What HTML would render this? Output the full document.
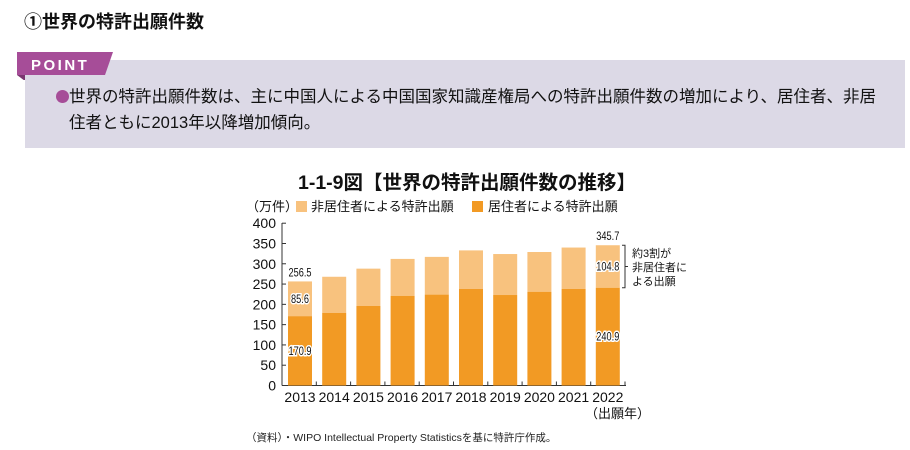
<!DOCTYPE html>
<html><head><meta charset="utf-8"><style>
body{margin:0;width:910px;height:450px;background:#fff;font-family:"Liberation Sans","Noto Sans CJK JP",sans-serif;overflow:hidden;position:relative}
.abs{position:absolute;white-space:nowrap}
</style></head><body>
<div class="abs" style="left:24px;top:8px;font-size:18px;font-weight:bold;color:#111">①世界の特許出願件数</div>
<div class="abs" style="left:25px;top:60px;width:880px;height:88px;background:#dcd9e6"></div>
<svg class="abs" style="left:15px;top:50px" width="100" height="30"><polygon points="2,2 98,2 90,25 2,25" fill="#a64d98"/><polygon points="2,25 10,25 10,31" fill="#7a3570"/><text x="16" y="20" font-family="Liberation Sans" font-weight="bold" font-size="15" fill="#fff" letter-spacing="2.5">POINT</text></svg>
<div class="abs" style="left:56px;top:90px;width:13px;height:13px;border-radius:50%;background:#a64d98"></div>
<div class="abs" style="left:56px;top:84px;font-size:16.5px;line-height:26px;color:#111"><span style="display:inline-block;width:13px"></span>世界の特許出願件数は、主に中国人による中国国家知識産権局への特許出願件数の増加により、居住者、非居<br><span style="padding-left:13px">住者ともに2013年以降増加傾向。</span></div>
<div class="abs" style="left:298px;top:166px;font-size:19.5px;font-weight:bold;color:#111">1-1-9図【世界の特許出願件数の推移】</div>
<svg class="abs" id="chart" style="left:0;top:0" width="910" height="450"></svg>
<div class="abs" style="left:246px;top:430px;font-size:10.5px;color:#222">（資料）・WIPO Intellectual Property Statisticsを基に特許庁作成。</div>
<script>
const years=["2013","2014","2015","2016","2017","2018","2019","2020","2021","2022"];
const resident=[170.9,179,196,221,224,238,223,231,238,240.9];
const nonResident=[85.6,89,92,91,93,95,101,98,102,104.8];
const yTicks=[0,50,100,150,200,250,300,350,400];
const ns="http://www.w3.org/2000/svg";
const svg=document.getElementById('chart');
const y0=385.5,yScale=162.3/400;
const Y=v=>y0-v*yScale;
const X=i=>288+i*34.2;
const bw=24;
function mk(t,a,p){const e=document.createElementNS(ns,t);for(const k in a)e.setAttribute(k,a[k]);if(t==='text')e.setAttribute('font-family','Liberation Sans, Noto Sans CJK JP, sans-serif');(p||svg).appendChild(e);return e;}
const ax=mk('g',{});


mk('line',{x1:282,y1:223,x2:282,y2:y0,stroke:'#333','stroke-width':1},ax);
mk('line',{x1:282,y1:y0,x2:626,y2:y0,stroke:'#333','stroke-width':1},ax);
yTicks.forEach(v=>{
 mk('line',{x1:282,y1:Y(v),x2:286,y2:Y(v),stroke:'#333'},ax);
 const t=mk('text',{x:276,y:Y(v)+5,'text-anchor':'end','font-size':14,fill:'#111'},ax);t.textContent=v;
 
 
});
for(let i=0;i<=10;i++){mk('line',{x1:282+i*34.3,y1:y0,x2:282+i*34.3,y2:y0-4,stroke:'#333'},ax);}
years.forEach((yr,i)=>{
 const tot=resident[i]+nonResident[i];
 const r1=mk('rect',{x:X(i),y:Y(tot),width:bw,height:Y(resident[i])-Y(tot),fill:'#f8c27e'});
 
 
 const r2=mk('rect',{x:X(i),y:Y(resident[i]),width:bw,height:y0-Y(resident[i]),fill:'#f29a24'});
 
 
 const t=mk('text',{x:X(i)+bw/2,y:402,'text-anchor':'middle','font-size':14,fill:'#111'});t.textContent=yr;
 
 
});
function lab(txt,x,y,bg){const g=mk('g',{transform:`translate(${x},${y}) scale(0.8,1)`});const t=mk('text',{x:0,y:0,'text-anchor':'middle','font-size':11.5,fill:'#111'},g);if(bg){t.setAttribute('stroke','#fff');t.setAttribute('stroke-width','3');t.setAttribute('paint-order','stroke');}t.textContent=txt;}
const last=years.length-1;
lab((resident[0]+nonResident[0]).toFixed(1),X(0)+bw/2,Y(resident[0]+nonResident[0])-5);
lab(nonResident[0].toFixed(1),X(0)+bw/2,Y(resident[0]+nonResident[0]/2)+4,true);
lab(resident[0].toFixed(1),X(0)+bw/2,Y(resident[0]/2)+4,true);
lab((resident[last]+nonResident[last]).toFixed(1),X(last)+bw/2,Y(resident[last]+nonResident[last])-5);
lab(nonResident[last].toFixed(1),X(last)+bw/2,Y(resident[last]+nonResident[last]/2)+4,true);
lab(resident[last].toFixed(1),X(last)+bw/2,Y(resident[last]/2)+4,true);
const bt=Y(resident[last]+nonResident[last]),bb=Y(resident[last]);
mk('path',{d:`M622 ${bt} H625 V${bb} H622 M625 ${(bt+bb)/2} H628`,stroke:'#333',fill:'none'});
const note=mk('text',{x:632,y:bt+12,'font-size':11,fill:'#111'});


['約3割が','非居住者に','よる出願'].forEach((s,i)=>{const ts=mk('tspan',{x:632,dy:i?14:0},note);ts.textContent=s;});
const u=mk('text',{x:246,y:211,'font-size':13,fill:'#111'});u.textContent='（万件）';

const xl=mk('text',{x:585,y:418,'font-size':13,fill:'#111'});xl.textContent='（出願年）';

const lg1=mk('rect',{x:296,y:201,width:11,height:11,fill:'#f8c27e'});

const lt1=mk('text',{x:311,y:211,'font-size':13,fill:'#111'});lt1.textContent='非居住者による特許出願';

const lg2=mk('rect',{x:472,y:201,width:11,height:11,fill:'#f29a24'});

const lt2=mk('text',{x:488,y:211,'font-size':13,fill:'#111'});lt2.textContent='居住者による特許出願';

</script>
</body></html>
